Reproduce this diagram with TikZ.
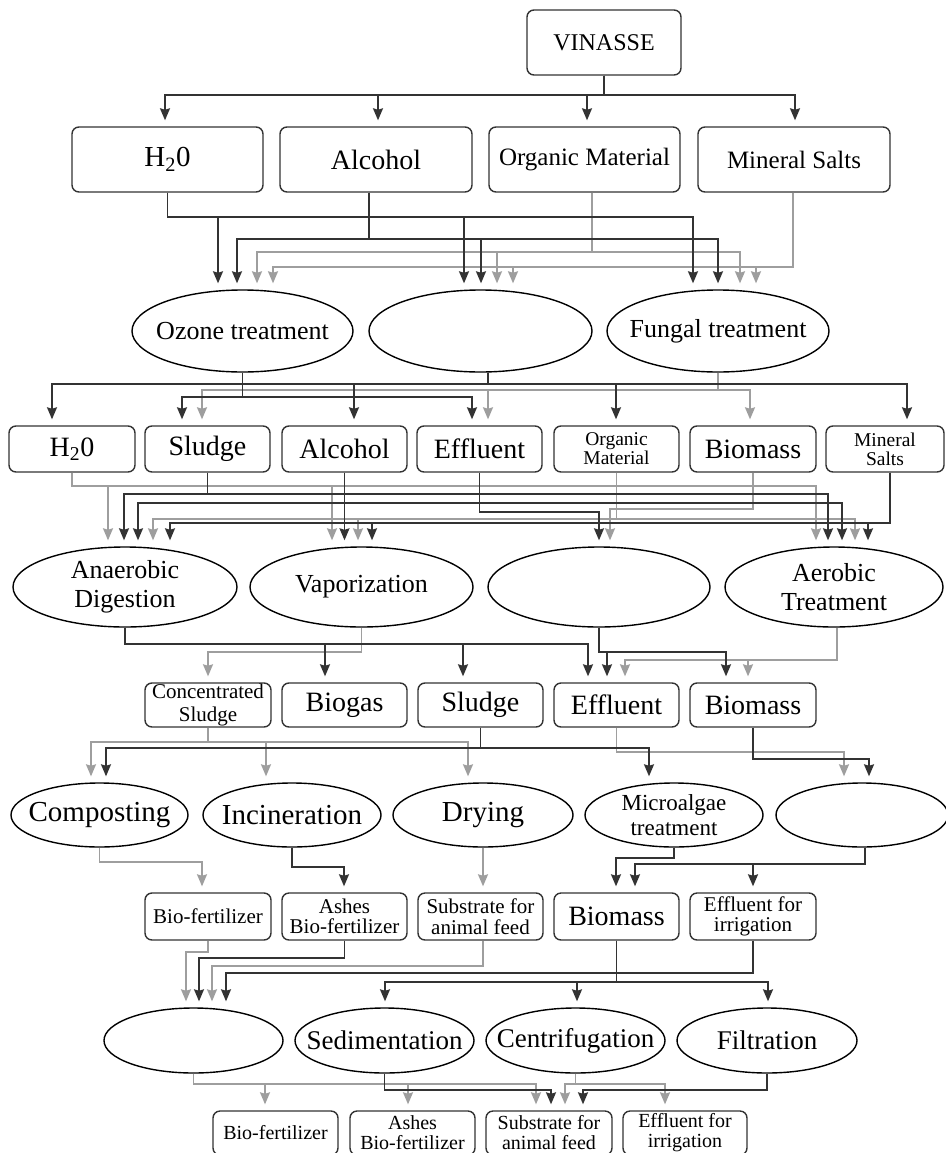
\documentclass[tikz,border=0pt]{standalone}
\usepackage{fontspec}
\setmainfont{Liberation Serif}
\usetikzlibrary{arrows.meta,shapes.geometric,calc}
\newcommand\fs[2]{\fontsize{#1}{#2}\selectfont}
\newcommand\lnk[5]{\draw[#1] (#2) |- (#4,#3) -- (#5.north -| #4,0);}
\tikzset{
  box/.style={draw=black!80, line width=1.4pt, rounded corners=7pt, align=center, inner sep=0pt},
  ell/.style={draw=black, line width=1.4pt, ellipse, inner sep=0pt},
  etxt/.style={align=center, inner sep=0pt},
  dk/.style={draw=black!80, line width=1.7pt, -{Stealth[length=12pt,width=10pt,inset=1.5pt]}, shorten >=6pt},
  gr/.style={draw=black!38, line width=1.7pt, -{Stealth[length=12pt,width=10pt,inset=1.5pt]}, shorten >=6pt},
  big/.style={font=\fs{28}{30}},
  mid/.style={font=\fs{26}{29}},
  sml/.style={font=\fs{21}{20.5}},
}
\begin{document}
\begin{tikzpicture}[x=1pt,y=-1pt]
\useasboundingbox (0,0) rectangle (945,1153);
\fill[white] (0,0) rectangle (945,1153);
% row 0
\node[box, minimum width=154, minimum height=65, font=\fs{24}{26}] (vin) at (604,42.5) {VINASSE};
% row 1
\node[box, font=\fs{29}{31}, minimum width=191, minimum height=65] (h2oA) at (167.5,159.5) {H\textsubscript{2}0};
\node[box, big, minimum width=192, minimum height=65] (alcA) at (376,159.5) {Alcohol};
\node[box, font=\fs{25}{27}, minimum width=191, minimum height=65] (orgA) at (584.5,159.5) {Organic Material};
\node[box, font=\fs{25}{27}, minimum width=192, minimum height=65] (minA) at (794,159.5) {Mineral Salts};
% ellipses 1
\node[ell, minimum width=221, minimum height=82] (ozone) at (242.5,331) {};
\node[etxt, mid] (ozoneT) at (ozone) {Ozone treatment};
\node[ell, minimum width=223, minimum height=82] (mid1) at (480.5,331) {};
\node[ell, minimum width=222, minimum height=82] (fungal) at (718,331) {};
\node[etxt, mid] (fungalT) at (fungal) {Fungal treatment};
% row 2
\node[box, big, minimum width=126, minimum height=46] (h2oB) at (72,449) {H\textsubscript{2}0};
\node[box, big, minimum width=125, minimum height=46] (sludgeB) at (207.5,449) {Sludge};
\node[box, big, minimum width=125, minimum height=46] (alcB) at (344.5,449) {Alcohol};
\node[box, big, minimum width=125, minimum height=46] (effB) at (479.5,449) {Effluent};
\node[box, font=\fs{19.5}{19}, minimum width=125, minimum height=46] (orgB) at (616.5,449) {Organic\\Material};
\node[box, big, minimum width=126, minimum height=46] (bioB) at (753,449) {Biomass};
\node[box, font=\fs{19.5}{19}, minimum width=118, minimum height=46] (minB) at (885,449) {Mineral\\Salts};
% ellipses 3
\node[ell, minimum width=224, minimum height=80] (anaer) at (125,587) {};
\node[etxt, mid] (anaerT) at (anaer) {Anaerobic\\Digestion};
\node[ell, minimum width=223, minimum height=80] (vapor) at (361.5,587) {};
\node[etxt, mid] (vaporT) at (vapor) {Vaporization};
\node[ell, minimum width=222, minimum height=80] (mid3) at (599,587) {};
\node[ell, minimum width=218, minimum height=80] (aerob) at (834,587) {};
\node[etxt, mid] (aerobT) at (aerob) {Aerobic\\Treatment};
% row 4
\node[box, font=\fs{21}{23}, minimum width=126, minimum height=44] (csl) at (208,705) {Concentrated\\Sludge};
\node[box, big, minimum width=125, minimum height=44] (biogas) at (344.5,705) {Biogas};
\node[box, big, minimum width=125, minimum height=44] (sludgeD) at (480.5,705) {Sludge};
\node[box, big, minimum width=125, minimum height=44] (effD) at (616.5,705) {Effluent};
\node[box, big, minimum width=126, minimum height=44] (bioD) at (753,705) {Biomass};
% ellipses 5
\node[ell, minimum width=177, minimum height=64] (compost) at (99.5,815) {};
\node[etxt, font=\fs{29}{31}] (compostT) at (compost) {Composting};
\node[ell, minimum width=178, minimum height=64] (incin) at (292,815) {};
\node[etxt, font=\fs{29}{31}] (incinT) at (incin) {Incineration};
\node[ell, minimum width=180, minimum height=64] (drying) at (483,815) {};
\node[etxt, font=\fs{29}{31}] (dryingT) at (drying) {Drying};
\node[ell, minimum width=178, minimum height=64] (micro) at (674,815) {};
\node[etxt, font=\fs{23}{25}] (microT) at (micro) {Microalgae\\treatment};
\node[ell, minimum width=172, minimum height=64] (mid5) at (862,815) {};
% row 6
\node[box, sml, minimum width=126, minimum height=47] (bfA) at (208,916.5) {Bio-fertilizer};
\node[box, sml, minimum width=125, minimum height=47] (ashA) at (344.5,916.5) {Ashes\\Bio-fertilizer};
\node[box, sml, minimum width=125, minimum height=47] (subA) at (480.5,916.5) {Substrate for\\animal feed};
\node[box, big, minimum width=125, minimum height=47] (bioF) at (616.5,916.5) {Biomass};
\node[box, sml, minimum width=126, minimum height=47] (effF) at (753,916.5) {Effluent for\\irrigation};
% ellipses 7
\node[ell, minimum width=179, minimum height=65] (mid7) at (193.5,1040.5) {};
\node[ell, minimum width=179, minimum height=65] (sedim) at (384.5,1040.5) {};
\node[etxt, font=\fs{27}{29}] (sedimT) at (sedim) {Sedimentation};
\node[ell, minimum width=179, minimum height=65] (centr) at (575.5,1040.5) {};
\node[etxt, font=\fs{27}{29}] (centrT) at (centr) {Centrifugation};
\node[ell, minimum width=180, minimum height=65] (filtr) at (767,1040.5) {};
\node[etxt, font=\fs{27}{29}] (filtrT) at (filtr) {Filtration};
% row 8
\node[box, font=\fs{20}{20}, minimum width=125, minimum height=44] (bfB) at (275.5,1133) {Bio-fertilizer};
\node[box, font=\fs{20}{20}, minimum width=125, minimum height=44] (ashB) at (412.5,1133) {Ashes\\Bio-fertilizer};
\node[box, font=\fs{20}{20}, minimum width=126, minimum height=44] (subB) at (549,1133) {Substrate for\\animal feed};
\node[box, font=\fs{20}{20}, minimum width=124, minimum height=44] (effB8) at (685,1133) {Effluent for\\irrigation};

% ---------- gray connectors ----------
\lnk{gr}{[xshift=7.5pt]orgA.south}{252}{257}{ozone}
\lnk{gr}{[xshift=7.5pt]orgA.south}{252}{497}{mid1}
\lnk{gr}{[xshift=7.5pt]orgA.south}{252}{740}{fungal}
\lnk{gr}{[xshift=-1pt]minA.south}{267}{273}{ozone}
\lnk{gr}{[xshift=-1pt]minA.south}{267}{513}{mid1}
\lnk{gr}{[xshift=-1pt]minA.south}{267}{756}{fungal}
\lnk{gr}{fungal.south}{390}{202}{sludgeB}
\lnk{gr}{fungal.south}{390}{488}{effB}
\lnk{gr}{fungal.south}{390}{750}{bioB}
\lnk{gr}{h2oB.south}{486}{108}{anaer}
\lnk{gr}{h2oB.south}{486}{332}{vapor}
\lnk{gr}{h2oB.south}{486}{816}{aerob}
\lnk{gr}{orgB.south}{519}{153}{anaer}
\lnk{gr}{orgB.south}{519}{358}{vapor}
\lnk{gr}{orgB.south}{519}{855}{aerob}
\lnk{gr}{bioB.south}{509}{610}{mid3}
\lnk{gr}{vapor.south}{652}{208}{csl}
\lnk{gr}{[xshift=3pt]aerob.south}{660}{625}{effD}
\lnk{gr}{[xshift=3pt]aerob.south}{660}{748}{bioD}
\lnk{gr}{csl.south}{742}{91}{compost}
\lnk{gr}{csl.south}{742}{266}{incin}
\lnk{gr}{csl.south}{742}{468}{drying}
\lnk{gr}{effD.south}{752}{844}{mid5}
\lnk{gr}{compost.south}{862}{202}{bfA}
\lnk{gr}{drying.south}{880}{483}{subA}
\lnk{gr}{bfA.south}{952}{186}{mid7}
\lnk{gr}{[xshift=2.5pt]subA.south}{966}{212}{mid7}
\lnk{gr}{mid7.south}{1084}{265}{bfB}
\lnk{gr}{mid7.south}{1084}{408}{ashB}
\lnk{gr}{mid7.south}{1084}{536}{subB}
\lnk{gr}{centr.south}{1084}{565}{subB}
\lnk{gr}{centr.south}{1084}{665}{effB8}

% ---------- dark connectors ----------
\lnk{dk}{vin.south}{95}{165}{h2oA}
\lnk{dk}{vin.south}{95}{378}{alcA}
\lnk{dk}{vin.south}{95}{587}{orgA}
\lnk{dk}{vin.south}{95}{795}{minA}
\lnk{dk}{h2oA.south}{217}{218}{ozone}
\lnk{dk}{h2oA.south}{217}{464}{mid1}
\lnk{dk}{h2oA.south}{217}{693}{fungal}
\lnk{dk}{[xshift=-7pt]alcA.south}{239}{237}{ozone}
\lnk{dk}{[xshift=-7pt]alcA.south}{239}{481}{mid1}
\lnk{dk}{[xshift=-7pt]alcA.south}{239}{718}{fungal}
\lnk{dk}{[xshift=7.5pt]mid1.south}{384}{52}{h2oB}
\lnk{dk}{[xshift=7.5pt]mid1.south}{384}{354}{alcB}
\lnk{dk}{[xshift=7.5pt]mid1.south}{384}{616}{orgB}
\lnk{dk}{[xshift=7.5pt]mid1.south}{384}{907}{minB}
\lnk{dk}{ozone.south}{397}{182}{sludgeB}
\lnk{dk}{ozone.south}{397}{472}{effB}
\lnk{dk}{sludgeB.south}{494}{124}{anaer}
\lnk{dk}{sludgeB.south}{494}{828}{aerob}
\lnk{dk}{alcB.south}{503}{138}{anaer}
\lnk{dk}{alcB.south}{503}{344.5}{vapor}
\lnk{dk}{alcB.south}{503}{842}{aerob}
\lnk{dk}{effB.south}{512}{599}{mid3}
\lnk{dk}{[xshift=5pt]minB.south}{523}{170}{anaer}
\lnk{dk}{[xshift=5pt]minB.south}{523}{372}{vapor}
\lnk{dk}{[xshift=5pt]minB.south}{523}{868}{aerob}
\lnk{dk}{anaer.south}{644}{325}{biogas}
\lnk{dk}{anaer.south}{644}{463}{sludgeD}
\lnk{dk}{anaer.south}{644}{588}{effD}
\lnk{dk}{mid3.south}{652}{607}{effD}
\lnk{dk}{mid3.south}{652}{726}{bioD}
\lnk{dk}{sludgeD.south}{748}{106}{compost}
\lnk{dk}{sludgeD.south}{748}{649}{micro}
\lnk{dk}{bioD.south}{759}{869}{mid5}
\lnk{dk}{incin.south}{867}{344}{ashA}
\lnk{dk}{micro.south}{858}{616}{bioF}
\lnk{dk}{[xshift=3pt]mid5.south}{864}{635}{bioF}
\lnk{dk}{[xshift=3pt]mid5.south}{864}{753}{effF}
\lnk{dk}{ashA.south}{958}{199}{mid7}
\lnk{dk}{effF.south}{973}{226}{mid7}
\lnk{dk}{bioF.south}{982}{385}{sedim}
\lnk{dk}{bioF.south}{982}{577}{centr}
\lnk{dk}{bioF.south}{982}{768}{filtr}
\lnk{dk}{sedim.south}{1090}{551}{subB}
\lnk{dk}{filtr.south}{1090}{583}{subB}
\end{tikzpicture}
\end{document}
